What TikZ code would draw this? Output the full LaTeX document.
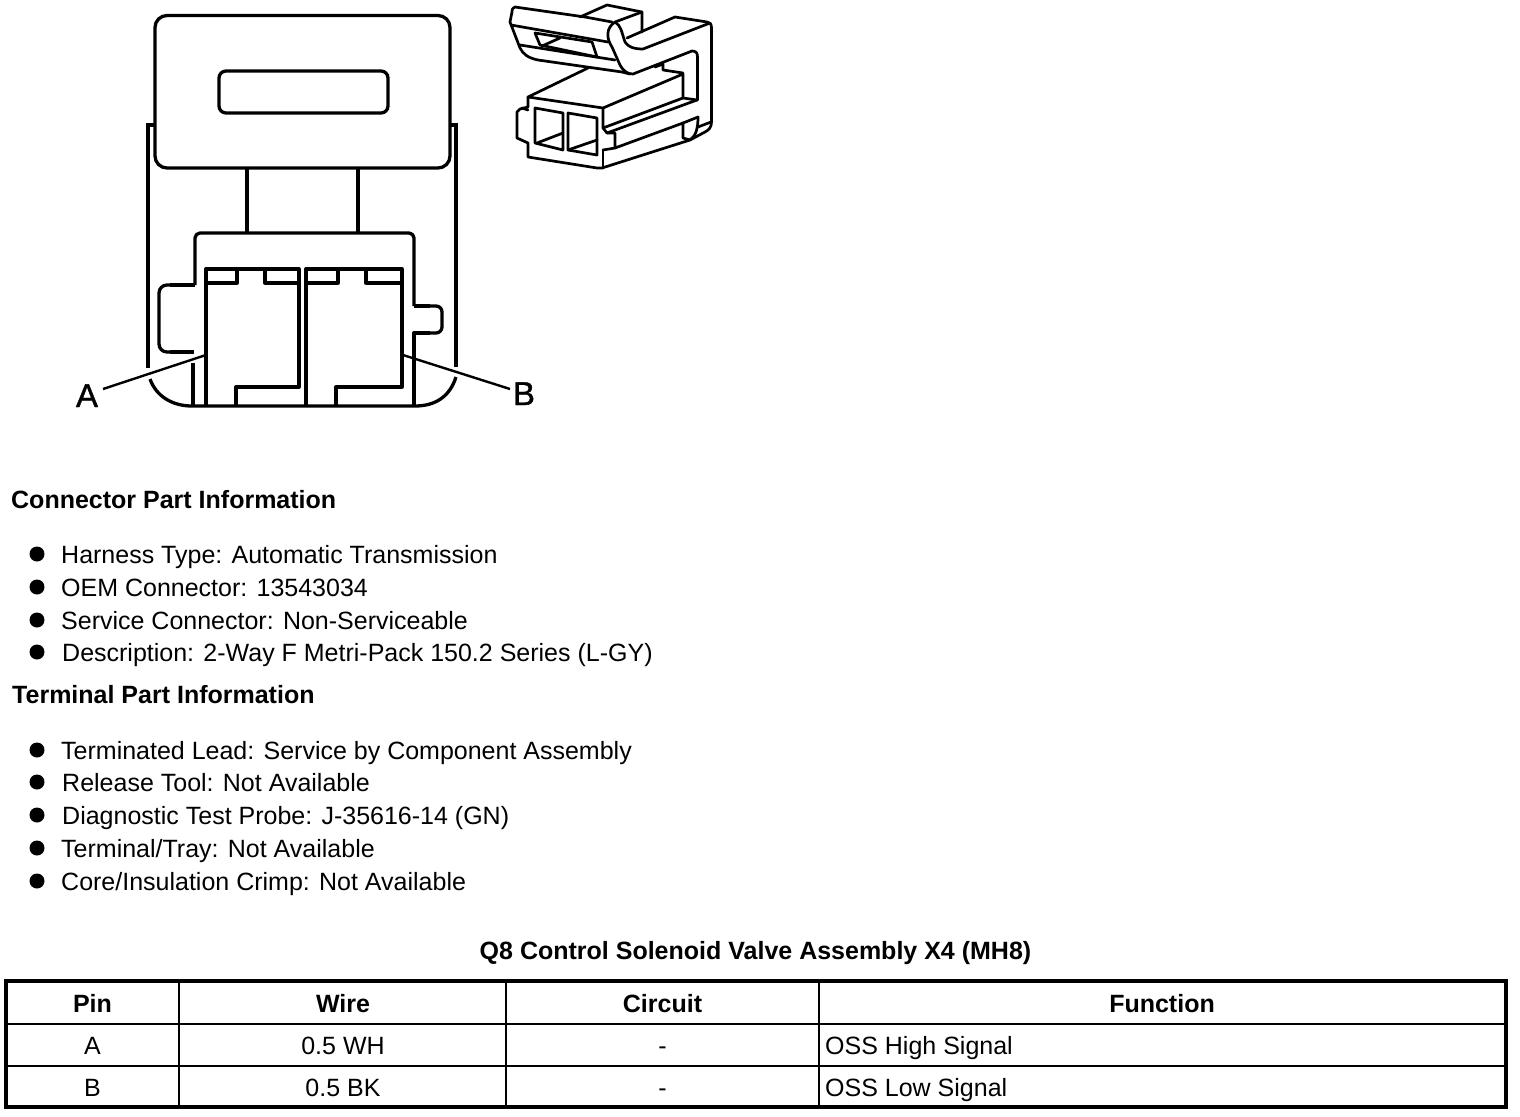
\documentclass[tikz,border=0pt]{standalone}
\usepackage{fontspec}
\setmainfont{Liberation Sans}
\newfontfamily\calloutfont[FakeBold=1.2]{Liberation Sans}
\begin{document}
\begin{tikzpicture}[x=1pt,y=-1pt,
  ln/.style={draw=black,line width=3.3pt,line join=round},
  side ln/.style={draw=black,line width=4.2pt,line join=miter},
  thin ln/.style={draw=black,line width=2.4pt,line join=round},
  iso/.style={draw=black,line width=2.7pt,line join=round,line cap=round},
  body/.style={font=\fontsize{25}{30}\selectfont,inner sep=0pt,anchor=base west,text=black},
  head/.style={font=\fontsize{25}{30}\selectfont\bfseries,inner sep=0pt,anchor=base west,text=black},
  cell/.style={font=\fontsize{25}{30}\selectfont,inner sep=0pt,anchor=base,text=black},
  hcell/.style={font=\fontsize{25}{30}\selectfont\bfseries,inner sep=0pt,anchor=base,text=black},
  callout/.style={font=\fontsize{33}{36}\calloutfont,inner sep=0pt,anchor=base,text=black},
  dot/.style={circle,fill=black,draw=none,minimum size=15pt,inner sep=0pt}]
\useasboundingbox[fill=white] (0,0) rectangle (1520,1116);

% front view of connector
\draw[side ln] (148,368) -- (148,125) -- (155,125);
\draw[side ln] (456,367) -- (456,125) -- (450,125);
\draw[ln,rounded corners=12pt,fill=white] (155,15.5) rectangle (450,168);
\draw[ln,rounded corners=7pt] (219,71) rectangle (388,113);
\draw[ln] (150,379) .. controls (156,396) and (172,406) .. (192,406) -- (415,406) .. controls (436,406) and (450,396) .. (456,377);
\draw[ln] (247,168) -- (247,233);
\draw[ln] (358,168) -- (358,233);
\draw[ln,rounded corners=5pt] (195,285) -- (195,233) -- (414,233) -- (414,306);
\draw[ln] (195,285) -- (170,285);
\draw[ln,rounded corners=8pt] (175,285) -- (159,285) -- (159,352) -- (175,352);
\draw[ln] (170,352) -- (194,352);
\draw[ln] (193,363) -- (193,406);
\draw[ln] (414,306) -- (430,306);
\draw[ln,rounded corners=6pt] (425,306) -- (442,306) -- (442,333) -- (425,333);
\draw[ln] (430,333) -- (414,333) -- (414,406);
% cavity A
\draw[ln] (206,406) -- (206,269) -- (299,269) -- (299,387) -- (236,387) -- (236,406);
\draw[ln] (206,283) -- (237,283) -- (237,269);
\draw[ln] (265,269) -- (265,283) -- (299,283);
% cavity B
\draw[ln] (306,406) -- (306,269) -- (402,269) -- (402,387) -- (336,387) -- (336,406);
\draw[ln] (306,283) -- (338,283) -- (338,269);
\draw[ln] (366,269) -- (366,283) -- (402,283);
% callouts
\node[callout] (la) at (87,407) {A};
\node[callout] (lb) at (524,405) {B};
\coordinate (pa) at (206,355);
\coordinate (pb) at (403,355);
\coordinate (ea) at (103,389);
\coordinate (eb) at (510,389);
\draw[thin ln] (ea) -- (pa);
\draw[thin ln] (eb) -- (pb);

% perspective view: latch
\draw[iso] (612,22) -- (585,17) -- (515,7) .. controls (512,9) .. (512,12) -- (510,22) -- (515,35) -- (520,48) .. controls (523,54) and (528,58) .. (538,60) -- (622,72) -- (630,74);
\draw[iso] (511,25) -- (608,42);
\draw[iso] (520,45) -- (615,60);
\draw[iso] (535,33) -- (592,42) -- (597,57) -- (540,45) -- cycle;
\draw[iso] (542,46) -- (560,38);
% back block
\draw[iso] (580,17) -- (607,5) -- (642,12) -- (642,32);
\draw[iso] (615,22) -- (642,12);
% hook and arm
\draw[iso] (615,22) .. controls (606,28) and (606,38) .. (612,47) -- (620,65) .. controls (624,72) and (628,74) .. (633,74) -- (692,51) .. controls (696,51) and (697.5,53) .. (697.5,57) -- (697.5,100);
\draw[iso] (615,22) .. controls (621,26) and (621,30) .. (625,42) .. controls (628,47) and (634,49) .. (643,49) -- (710,23);
\draw[iso] (627,38) -- (675,17) -- (707,22) .. controls (710,22.5) and (711.5,24) .. (711.5,28) -- (711.5,122) .. controls (711.5,127) and (709,130) .. (705,132) -- (690,140);
\draw[iso] (655,67) -- (663,64) -- (663,70) -- (683,73);
% body
\draw[iso] (588,68) -- (528,97) -- (603,108) -- (683,74) -- (683,98);
\draw[iso] (603,108) -- (603,128) -- (683,98) -- (697,100);
\draw[iso] (603,128) -- (607,133) -- (697,100);
\draw[iso] (607,133) -- (615,133) -- (615,148) -- (683,123) -- (683,138) -- (690,140);
\draw[iso] (683,123) -- (698,117);
\draw[iso] (690,140) .. controls (696,136) and (698,128) .. (698,117);
\draw[iso] (698,127) -- (711,122);
% front face
\draw[iso] (528,97) -- (528,107) -- (520,109) -- (517,112) -- (517,138) -- (528,143) -- (528,157) -- (597,168) -- (602,168) -- (690,140);
\draw[iso] (522,108) -- (528,110);
\draw[iso] (603,150) -- (603,168);
\draw[iso] (603,150) -- (615,148);
\draw[iso] (535,108) -- (563,113) -- (563,150) -- (535,143) -- cycle;
\draw[iso] (537,143) -- (563,133);
\draw[iso] (568,113) -- (597,118) -- (597,155) -- (568,150) -- cycle;
\draw[iso] (568,150) -- (597,140);

% text
\node[head] (h1) at (11,508) {Connector Part Information};
\node[dot] (b1) at (37,554) {}; \node[body] (t1) at (61,563) {Harness Type: Automatic Transmission};
\node[dot] (b2) at (37,587) {}; \node[body] (t2) at (61,596) {OEM Connector: 13543034};
\node[dot] (b3) at (37,620) {}; \node[body] (t3) at (61,629) {Service Connector: Non-Serviceable};
\node[dot] (b4) at (37,652) {}; \node[body] (t4) at (62,661) {Description: 2-Way F Metri-Pack 150.2 Series (L-GY)};
\node[head] (h2) at (12,703) {Terminal Part Information};
\node[dot] (b5) at (37,750) {}; \node[body] (t5) at (61,759) {Terminated Lead: Service by Component Assembly};
\node[dot] (b6) at (37,782) {}; \node[body] (t6) at (62,791) {Release Tool: Not Available};
\node[dot] (b7) at (37,815) {}; \node[body] (t7) at (62,824) {Diagnostic Test Probe: J-35616-14 (GN)};
\node[dot] (b8) at (37,848) {}; \node[body] (t8) at (61,857) {Terminal/Tray: Not Available};
\node[dot] (b9) at (37,881) {}; \node[body] (t9) at (61,890) {Core/Insulation Crimp: Not Available};
\node[hcell] (title) at (755.5,959) {Q8 Control Solenoid Valve Assembly X4 (MH8)};

% table
\draw[draw=black,line width=4pt] (6,981) rectangle (1506,1107);
\draw[thin ln] (6,1024) -- (1506,1024);
\draw[thin ln] (6,1066) -- (1506,1066);
\draw[thin ln] (179,981) -- (179,1107);
\draw[thin ln] (506,981) -- (506,1107);
\draw[thin ln] (819,981) -- (819,1107);
\node[hcell] (c1) at (92.5,1012) {Pin};
\node[hcell] (c2) at (343,1012) {Wire};
\node[hcell] (c3) at (662.5,1012) {Circuit};
\node[hcell] (c4) at (1162,1012) {Function};
\node[cell] (a1) at (92.5,1054) {A};
\node[cell] (a2) at (343,1054) {0.5 WH};
\node[cell] (a3) at (662.5,1054) {-};
\node[body] (a4) at (825,1054) {OSS High Signal};
\node[cell] (b11) at (92.5,1096.5) {B};
\node[cell] (b12) at (343,1096.5) {0.5 BK};
\node[cell] (b13) at (662.5,1096.5) {-};
\node[body] (b14) at (825,1096.5) {OSS Low Signal};
\end{tikzpicture}
\end{document}
